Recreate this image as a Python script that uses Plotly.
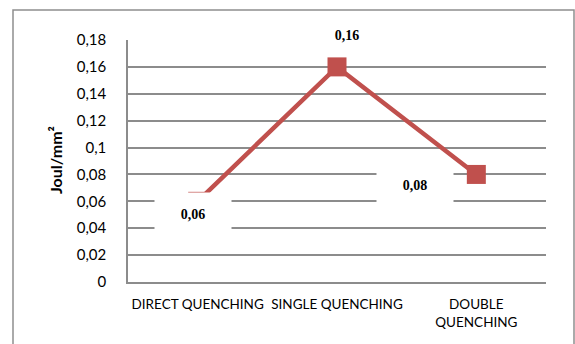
import plotly.graph_objects as go

categories = ["DIRECT QUENCHING", "SINGLE QUENCHING", "DOUBLE<br>QUENCHING"]
values = [0.06, 0.16, 0.08]
y_tickvals = [0, 0.02, 0.04, 0.06, 0.08, 0.1, 0.12, 0.14, 0.16, 0.18]
y_ticktext = ["0", "0,02", "0,04", "0,06", "0,08", "0,1", "0,12", "0,14", "0,16", "0,18"]
value_labels = ["0,06", "0,16", "0,08"]
y_title = "Joul/mm²"

RED = "#C0504D"
GRID = "#8C8C8C"

fig = go.Figure()
fig.add_trace(go.Scatter(
    x=categories, y=values, mode="lines+markers",
    line=dict(color=RED, width=4.5),
    marker=dict(symbol="square", size=19, color=RED),
    showlegend=False, hoverinfo="skip",
))

# data labels with white boxes
shifts = [(-5, -13), (10, 32), (-61, -11)]
for cat, val, lab, (dx, dy) in zip(categories, values, value_labels, shifts):
    fig.add_annotation(
        x=cat, y=val, text="<b>" + lab + "</b>", showarrow=False,
        xshift=dx, yshift=dy, xanchor="center", yanchor="middle",
        width=74, height=40, bgcolor="white",
        font=dict(family="Liberation Serif, serif", size=14, color="black"),
    )

# y title
fig.add_annotation(
    xref="paper", yref="paper", x=(55 - 128) / 418, y=(282 - 160) / 242,
    text="<b>" + y_title + "</b>", textangle=-90, showarrow=False,
    xanchor="center", yanchor="middle",
    font=dict(family="Lato", size=16, color="black"),
)

# outer border
fig.add_shape(
    type="rect", xref="paper", yref="paper",
    x0=(13 - 128) / 418, x1=(574 - 128) / 418,
    y0=(282 - 360) / 242, y1=(282 - 10) / 242,
    line=dict(color="#8E8E8E", width=1.5), fillcolor="rgba(0,0,0,0)", layer="below",
)

fig.update_layout(
    width=575, height=344,
    margin=dict(l=128, r=29, t=40, b=62),
    paper_bgcolor="white", plot_bgcolor="white",
    showlegend=False,
    font=dict(family="Lato", color="black"),
)
fig.update_xaxes(
    type="category", range=[-0.5, 2.5],
    showgrid=False, showline=True, linecolor=GRID, linewidth=1.5,
    ticks="", tickfont=dict(family="Lato", size=13.5, color="black"),
    ticklabelstandoff=9, zeroline=False,
)
fig.update_yaxes(
    range=[0, 0.18], tickvals=y_tickvals, ticktext=y_ticktext,
    showgrid=True, gridcolor=GRID, gridwidth=1.5,
    showline=True, linecolor=GRID, linewidth=1.5,
    ticks="", tickfont=dict(family="Lato", size=15, color="black"),
    ticklabelstandoff=17, zeroline=False,
)

fig.write_html("out.html")
